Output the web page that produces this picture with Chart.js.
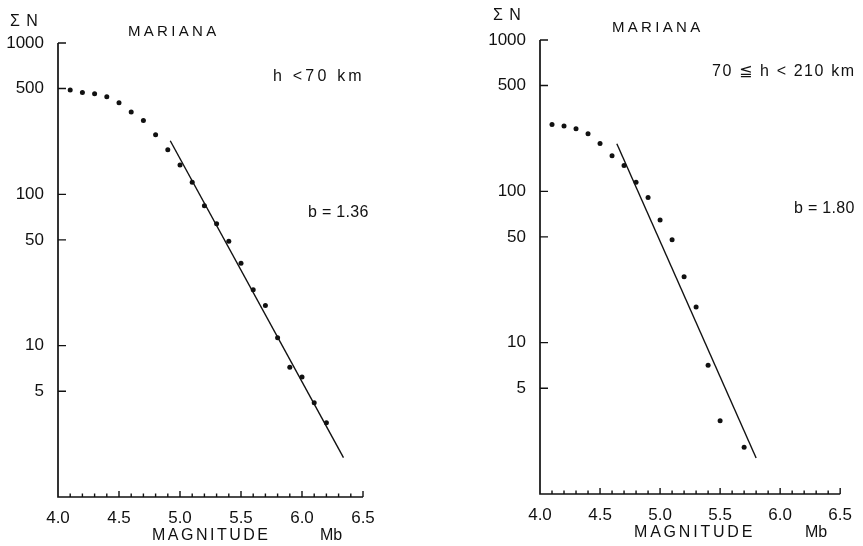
<!DOCTYPE html>
<html>
<head>
<meta charset="utf-8">
<script src="https://cdn.jsdelivr.net/npm/chart.js@4.4.1/dist/chart.umd.min.js"></script>
<style>
    html, body { margin: 0; padding: 0; background: #fff; }
    #wrap { position: relative; width: 863px; height: 546px; }
    #leftBox { position: absolute; left: 0; top: 0; width: 430px; height: 546px; }
    #rightBox { position: absolute; left: 430px; top: 0; width: 433px; height: 546px; }
</style>
</head>
<body>
<div id="wrap">
    <div id="leftBox"><canvas id="leftChart"></canvas></div>
    <div id="rightBox"><canvas id="rightChart"></canvas></div>
</div>
<script>
// Cumulative number of events vs magnitude, Mariana
const magsShallow = [4.1, 4.2, 4.3, 4.4, 4.5, 4.6, 4.7, 4.8, 4.9, 5.0, 5.1,
                     5.2, 5.3, 5.4, 5.5, 5.6, 5.7, 5.8, 5.9, 6.0, 6.1, 6.2];
const countsShallow = [489, 471, 462, 441, 403, 350, 307, 248, 197, 156, 120,
                       84, 64, 49, 35, 23.4, 18.4, 11.3, 7.2, 6.2, 4.2, 3.1];
const fitShallowX = [4.92, 6.34];
const fitShallowY = [226, 1.82];

const magsInter = [4.1, 4.2, 4.3, 4.4, 4.5, 4.6, 4.7, 4.8, 4.9, 5.0, 5.1,
                   5.2, 5.3, 5.4, 5.5, 5.7];
const countsInter = [276, 270, 259, 240, 207, 172, 148, 115, 91, 64.6, 47.9,
                     27.3, 17.2, 7.1, 3.05, 2.04];
const fitInterX = [4.64, 5.80];
const fitInterY = [206, 1.73];

const xTickLabels = [4.0, 4.5, 5.0, 5.5, 6.0, 6.5];
const yTickLabels = [5, 10, 50, 100, 500, 1000];

const FONT = "'Liberation Sans', 'DejaVu Sans', sans-serif";
const INK = '#111';

function toPoints(xs, ys) {
    return xs.map((x, i) => ({ x: x, y: ys[i] }));
}

// axes, inward ticks and annotation text
const framePlugin = {
    id: 'frame',
    afterDraw(chart, args, opts) {
        const ctx = chart.ctx;
        const xs = chart.scales.x;
        const ys = chart.scales.y;
        const area = chart.chartArea;
        ctx.save();
        ctx.strokeStyle = INK;
        ctx.lineWidth = 1.7;
        ctx.beginPath();
        ctx.moveTo(area.left, area.top);
        ctx.lineTo(area.left, area.bottom);
        ctx.lineTo(area.right, area.bottom);
        ctx.stroke();

        ctx.lineWidth = 1.4;
        ctx.beginPath();
        yTickLabels.forEach(v => {
            const py = ys.getPixelForValue(v);
            ctx.moveTo(area.left, py);
            ctx.lineTo(area.left + 8, py);
        });
        for (let i = 1; i <= 25; i++) {
            const v = 4 + i * 0.1;
            const px = xs.getPixelForValue(v);
            const len = (i % 5 === 0) ? 6 : 3.5;
            ctx.moveTo(px, area.bottom);
            ctx.lineTo(px, area.bottom - len);
        }
        ctx.stroke();

        ctx.fillStyle = INK;
        ctx.textBaseline = 'middle';
        ctx.textAlign = 'left';
        opts.texts.forEach(t => {
            ctx.font = t.size + 'px ' + FONT;
            ctx.letterSpacing = (t.spacing || 0) + 'px';
            ctx.fillText(t.text, t.x, t.y);
        });
        ctx.restore();
    }
};

function makeChart(id, mags, counts, fitX, fitY, layout, texts) {
    const ctx = document.getElementById(id).getContext('2d');
    return new Chart(ctx, {
        type: 'scatter',
        data: {
            datasets: [{
                label: 'data',
                data: toPoints(mags, counts),
                pointRadius: 2.5,
                pointBackgroundColor: INK,
                pointBorderWidth: 0,
                showLine: false
            }, {
                label: 'fit',
                data: toPoints(fitX, fitY),
                showLine: true,
                pointRadius: 0,
                borderColor: INK,
                borderWidth: 1.4,
                fill: false
            }]
        },
        options: {
            responsive: true,
            maintainAspectRatio: false,
            animation: false,
            layout: { padding: layout.padding },
            plugins: {
                legend: { display: false },
                tooltip: { enabled: false },
                frame: { texts: texts }
            },
            scales: {
                x: {
                    type: 'linear',
                    min: 4,
                    max: 6.5,
                    grid: { display: false, drawTicks: false },
                    border: { display: false },
                    afterBuildTicks: s => { s.ticks = xTickLabels.map(v => ({ value: v })); },
                    afterFit: s => { s.height = layout.xHeight; },
                    ticks: {
                        autoSkip: false,
                        maxRotation: 0,
                        padding: 11,
                        color: INK,
                        font: { family: FONT, size: 17 },
                        callback: v => v.toFixed(1)
                    }
                },
                y: {
                    type: 'logarithmic',
                    min: 1,
                    max: 1000,
                    grid: { display: false, drawTicks: false },
                    border: { display: false },
                    afterBuildTicks: s => { s.ticks = yTickLabels.map(v => ({ value: v })); },
                    afterFit: s => { s.width = layout.yWidth; },
                    ticks: {
                        autoSkip: false,
                        padding: 14,
                        color: INK,
                        font: { family: FONT, size: 17 },
                        callback: v => String(v)
                    }
                }
            }
        },
        plugins: [framePlugin]
    });
}

makeChart('leftChart', magsShallow, countsShallow, fitShallowX, fitShallowY,
    { padding: { left: 0, right: 67, top: 43, bottom: 0 }, yWidth: 58, xHeight: 49 },
    [
        { text: 'Σ N', x: 10, y: 22, size: 16, spacing: 1 },
        { text: 'MARIANA', x: 128, y: 32, size: 15, spacing: 3.3 },
        { text: 'h <70 km', x: 273, y: 77, size: 16, spacing: 3.2 },
        { text: 'b = 1.36', x: 308, y: 213, size: 16, spacing: 0.3 },
        { text: 'MAGNITUDE', x: 152, y: 536, size: 16, spacing: 2.5 },
        { text: 'Mb', x: 320, y: 536, size: 16, spacing: 0 }
    ]);

makeChart('rightChart', magsInter, countsInter, fitInterX, fitInterY,
    { padding: { left: 0, right: 16, top: 40, bottom: 0 }, yWidth: 110, xHeight: 52 },
    [
        { text: 'Σ N', x: 63, y: 16, size: 16, spacing: 1 },
        { text: 'MARIANA', x: 182, y: 28, size: 15, spacing: 3.3 },
        { text: '70 ≦ h < 210 km', x: 282, y: 72, size: 16, spacing: 1.6 },
        { text: 'b = 1.80', x: 364, y: 209, size: 16, spacing: 0.3 },
        { text: 'MAGNITUDE', x: 204, y: 533, size: 16, spacing: 2.8 },
        { text: 'Mb', x: 375, y: 533, size: 16, spacing: 0 }
    ]);
</script>
</body>
</html>
